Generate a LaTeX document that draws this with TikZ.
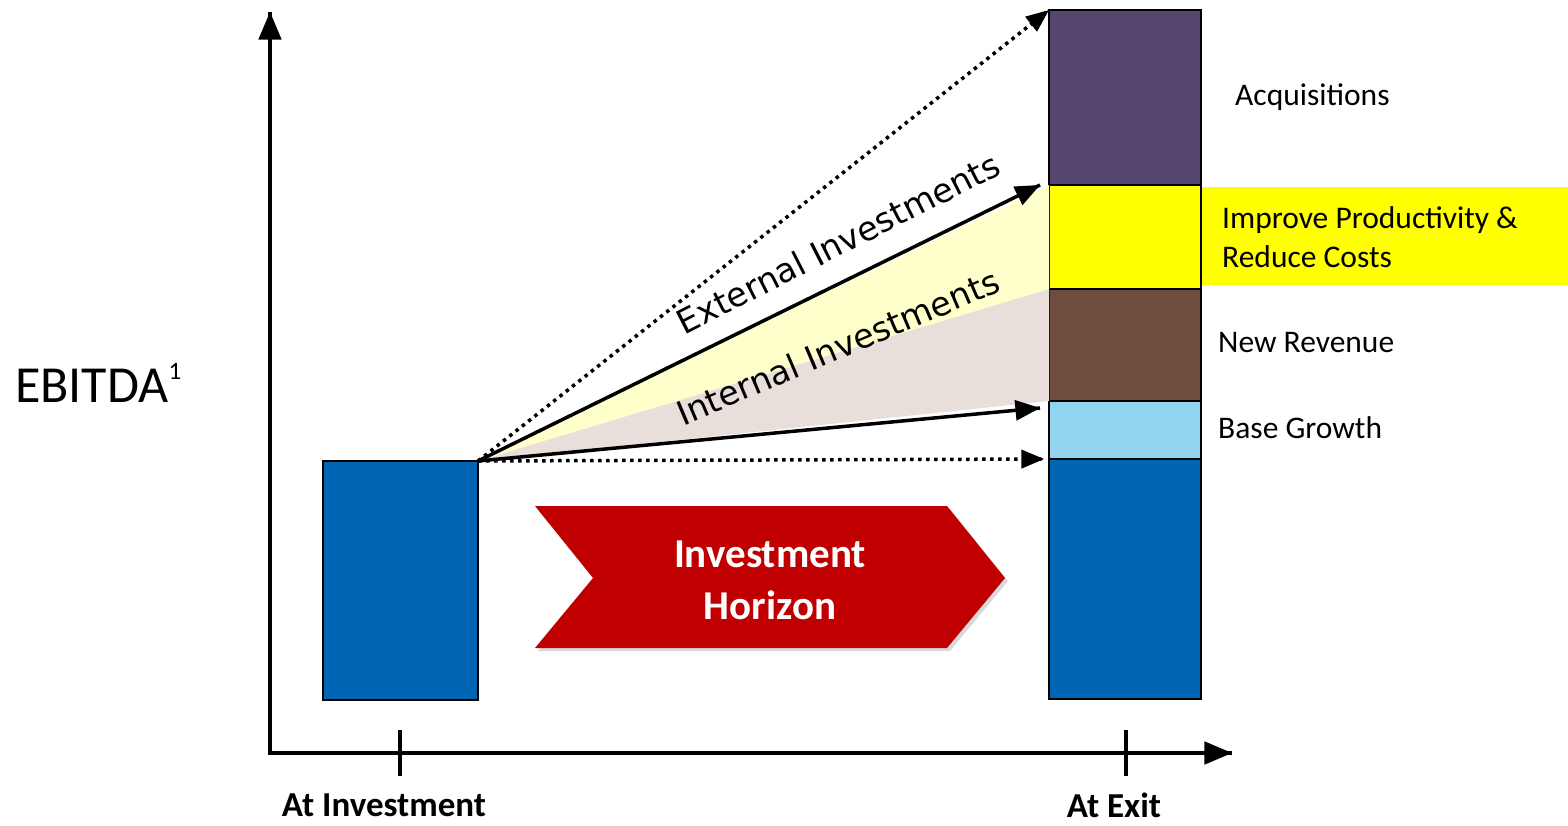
\documentclass[tikz,border=0pt]{standalone}
\usepackage{fontspec}
\setmainfont{Carlito}
\newfontfamily\slantfont{DejaVu Sans}
\usetikzlibrary{arrows}
\usetikzlibrary{decorations.markings}
\usetikzlibrary{positioning}
\usetikzlibrary{shadows}
\definecolor{ebitdablue}{RGB}{0,102,179}
\definecolor{acqpurple}{RGB}{84,70,111}
\definecolor{revbrown}{RGB}{112,76,63}
\definecolor{baseblue}{RGB}{146,212,240}
\definecolor{hzred}{RGB}{192,0,0}
\definecolor{fanyellow}{RGB}{255,255,204}
\definecolor{fanpink}{RGB}{232,222,218}
\definecolor{hlyellow}{RGB}{255,255,0}
\tikzset{tip/.style = {decoration={markings,
                                   mark=at position 1 with {\arrow[scale=#1]{triangle 45}}},
                       postaction={decorate}},
         tip/.default = 1.3}
\tikzset{bar/.style = {draw, line width=1.5pt, inner sep=0, outer sep=0, minimum width=152pt, anchor=north west}}
\tikzset{dots/.style = {line width=3.5pt, dash pattern=on 3.5pt off 4.5pt}}
\tikzset{lbl/.style = {anchor=base west, inner sep=0, font=\fontsize{31.5}{38}\selectfont}}
\tikzset{ticklbl/.style = {anchor=base, inner sep=0, font=\bfseries\fontsize{35}{42}\selectfont}}

\begin{document}
\begin{tikzpicture}[x=1pt, y=-1pt]
    \useasboundingbox (0, 0) rectangle (1568, 825);

    % axes
    \coordinate (orig) at (270, 753);
    \coordinate (ytop) at (270, 12);
    \coordinate (xend) at (1232, 753);
    \draw [line width=4.5pt, tip=1.2] ([yshift=-2pt]orig) -- (ytop);
    \draw [line width=4.5pt, tip=1.2] ([xshift=-2pt]orig) -- (xend);
    \draw [line width=4.5pt] (400, 730) -- (400, 776);
    \draw [line width=4.5pt] (1126, 730) -- (1126, 776);
    \node [ticklbl] (atinv) at (384, 816) {At Investment};
    \node [ticklbl] (atexit) at (1114, 817) {At Exit};
    \node [anchor=base west, inner sep=0, font=\fontsize{52}{60}\selectfont] (ebitda) at (15, 402)
        {EBITDA\raisebox{23pt}{\fontsize{25}{28}\selectfont 1}};

    % bars
    \fill [hlyellow] (1201, 187) rectangle (1568, 285);
    \node [bar, fill=ebitdablue, minimum width=155pt, minimum height=239pt] (inv) at (323, 461) {};
    \node [bar, fill=acqpurple, minimum height=175pt] (acq) at (1049, 10) {};
    \node [bar, fill=hlyellow, minimum height=104pt, below=0pt of acq] (imp) {};
    \node [bar, fill=revbrown, minimum height=112pt, below=0pt of imp] (rev) {};
    \node [bar, fill=baseblue, minimum height=58pt, below=0pt of rev] (base) {};
    \node [bar, fill=ebitdablue, minimum height=240pt, below=0pt of base] (exit) {};

    % fan
    \fill [fanyellow] (inv.north east) -- (imp.north west) -- (imp.south west) -- cycle;
    \fill [fanpink] (inv.north east) -- (rev.north west) -- (rev.south west) -- cycle;
    \draw [dots, tip=1.2] (inv.north east) -- (acq.north west);
    \draw [line width=3.5pt, tip] (inv.north east) -- ([xshift=-9pt]imp.north west);
    \draw [line width=3.5pt, tip] (inv.north east) -- ([xshift=-9pt, yshift=-7pt]base.north west);
    \draw [dots, tip=1.2] (inv.north east) -- ([xshift=-5pt]exit.north west);
    \node [rotate=27, font=\slantfont\fontsize{33.5}{40}\selectfont] (ext) at (838, 243) {External Investments};
    \node [rotate=23, font=\slantfont\fontsize{33.5}{40}\selectfont] (int) at (838, 347) {Internal Investments};

    % labels
    \node [lbl] (acqlbl) at (1235, 105) {Acquisitions};
    \node [lbl] (implbl) at (1222, 228) {Improve Productivity \&};
    \node [lbl] (implbl2) at (1222, 267) {Reduce Costs};
    \node [lbl] (revlbl) at (1218, 352) {New Revenue};
    \node [lbl] (baselbl) at (1218, 438) {Base Growth};

    % horizon
    \fill [hzred, drop shadow={shadow xshift=3pt, shadow yshift=-3pt, opacity=0.3}]
        (535, 506) -- (947, 506) -- (1005, 578) -- (947, 648) -- (535, 648) -- (593, 578) -- cycle;
    \node [text=white, align=center, font=\bfseries\fontsize{41}{52}\selectfont] (hz) at (770, 580) {Investment\\Horizon};
\end{tikzpicture}
\end{document}
